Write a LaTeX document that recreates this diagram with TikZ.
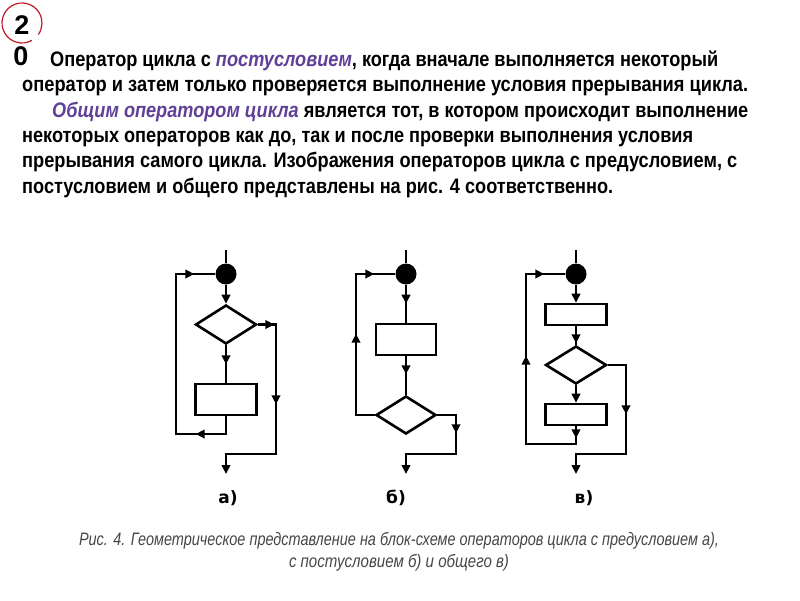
\documentclass[tikz,border=0pt]{standalone}
\usepackage{fontspec}
\usepackage{graphicx}
\setmainfont{Liberation Sans}
\newfontfamily\labfont{DejaVu Sans}
\usetikzlibrary{shapes.geometric,arrows.meta,decorations.markings}
\definecolor{purp}{RGB}{96,64,150}
\definecolor{capgray}{RGB}{70,70,70}
\definecolor{circred}{RGB}{190,25,35}
\newlength\fitlen
\newcommand\fitw[2]{\settowidth\fitlen{#2}\pgfmathsetmacro\fitr{#1/\fitlen}\scalebox{\fitr}[1]{#2}}
\newcommand\bodyf{\fontsize{21}{22}\selectfont\bfseries}
\newcommand\captf{\fontsize{18}{19}\selectfont\itshape}
\tikzset{
  >={Triangle[length=9pt,width=8.5pt]},
  ln/.style={line width=2.6pt, draw=black, line join=miter},
  blk/.style={rectangle, draw=black, line width=2.6pt, minimum width=61pt, minimum height=31pt, inner sep=0pt},
  dia/.style={diamond, draw=black, line width=2.6pt, inner sep=0pt, minimum width=61pt, minimum height=39pt},
  dot/.style={circle, fill=black, minimum size=21pt, inner sep=0pt},
  tipend/.style={-{Triangle[length=9pt,width=8.5pt]}},
  midarr/.style={postaction={decorate,decoration={markings,mark=at position #1 with {\arrow{>}}}}},
  txt/.style={anchor=base west, inner sep=0pt},
  lab/.style={inner sep=0pt, font=\labfont\bfseries\fontsize{17}{19}\selectfont},
}
\begin{document}
\begin{tikzpicture}[x=1pt,y=-1pt]
\path[use as bounding box] (0,0) rectangle (800,600);

% page number
\draw[circred, line width=1.2pt] (22,23) ++(60:20) arc[start angle=60, end angle=395, radius=20];
\node[inner sep=0pt] (pn2) at (22,25) {\fontsize{27}{27}\selectfont\bfseries 2};
\node[inner sep=0pt] (pn0) at (21,56) {\fontsize{27}{27}\selectfont\bfseries 0};

% body text
\node[txt] (l1) at (50,66) {\bodyf\fitw{668}{Оператор цикла с \textcolor{purp}{\itshape постусловием}, когда вначале выполняется некоторый}};
\node[txt] (l2) at (22,91) {\bodyf\fitw{726}{оператор и затем только проверяется выполнение условия прерывания цикла.}};
\node[txt] (l3) at (52,117) {\bodyf\fitw{696}{\textcolor{purp}{\itshape Общим оператором цикла} является тот, в котором происходит выполнение}};
\node[txt] (l4) at (22,142) {\bodyf\fitw{671}{некоторых операторов как до, так и после проверки выполнения условия}};
\node[txt] (l5) at (22,167) {\bodyf\fitw{715}{прерывания самого цикла. Изображения операторов цикла с предусловием, с}};
\node[txt] (l6) at (22,193) {\bodyf\fitw{591}{постусловием и общего представлены на рис. 4 соответственно.}};

% ---------- a)
\coordinate (at) at (226,250);
\node[dot] (c1) at (226,274) {};
\node[dia] (d1) at (226,324.5) {};
\node[blk] (r1) at (226,399.5) {};
\coordinate (a1) at (226,434);
\coordinate (a2) at (176,434);
\coordinate (a3) at (176,274);
\coordinate (a4) at (276,324.5);
\coordinate (a5) at (276,454);
\coordinate (a6) at (226,454);
\coordinate (a7) at (226,474);
\draw[ln] (at) -- (c1);
\draw[ln,tipend] (c1) -- (d1.north);
\draw[ln,midarr=19pt] (d1.south) -- (r1.north);
\draw[ln,midarr=48pt,midarr=246pt] (r1.south) -- (a1) -- (a2) -- (a3) -- (c1.west);
\draw[ln,midarr=16.5pt,midarr=98pt,tipend] (d1.east) -- (a4) -- (a5) -- (a6) -- (a7);

% ---------- b)
\coordinate (bt) at (406,250);
\node[dot] (c2) at (406,274) {};
\node[blk, minimum width=60pt] (r2) at (406,339.5) {};
\node[dia, minimum width=60pt, minimum height=38pt] (d2) at (406,415) {};
\coordinate (b1) at (356,415);
\coordinate (b2) at (356,274);
\coordinate (b3) at (456,415);
\coordinate (b4) at (456,454);
\coordinate (b5) at (406,454);
\coordinate (b6) at (406,474);
\draw[ln] (bt) -- (c2);
\draw[ln,midarr=19pt] (c2) -- (r2.north);
\draw[ln,midarr=18pt] (r2.south) -- (d2.north);
\draw[ln,midarr=100pt,midarr=178pt] (d2.west) -- (b1) -- (b2) -- (c2.west);
\draw[ln,midarr=37pt,tipend] (d2.east) -- (b3) -- (b4) -- (b5) -- (b6);

% ---------- c)
\coordinate (ct) at (576,250);
\node[dot] (c3) at (576,274) {};
\node[blk, minimum height=21pt] (r3) at (576,314.5) {};
\node[dia, minimum height=38pt] (d3) at (576,365) {};
\node[blk, minimum height=21pt] (r4) at (576,414.5) {};
\coordinate (e1) at (576,444);
\coordinate (e2) at (526,444);
\coordinate (e3) at (526,274);
\coordinate (e4) at (626,365);
\coordinate (e5) at (626,454);
\coordinate (e6) at (576,454);
\coordinate (e7) at (576,474);
\draw[ln] (ct) -- (c3);
\draw[ln,tipend] (c3) -- (r3.north);
\draw[ln,midarr=17pt] (r3.south) -- (d3.north);
\draw[ln,tipend] (d3.south) -- (r4.north);
\draw[ln,midarr=12pt,midarr=156pt,midarr=256pt] (r4.south) -- (e1) -- (e2) -- (e3) -- (c3.west);
\draw[ln,midarr=67.5pt,tipend] (d3.east) -- (e4) -- (e5) -- (e6) -- (e7);

% labels
\node[lab] (la) at (228,498) {а)};
\node[lab] (lb) at (396,498) {б)};
\node[lab] (lc) at (584,498) {в)};

% caption
\node[inner sep=0pt, text=capgray] (cap1) at (399,541) {\captf\fitw{640}{Рис. 4. Геометрическое представление на блок-схеме операторов цикла с предусловием а),}};
\node[inner sep=0pt, text=capgray] (cap2) at (399,563) {\captf\fitw{220}{с постусловием б) и общего в)}};
\end{tikzpicture}
\end{document}
